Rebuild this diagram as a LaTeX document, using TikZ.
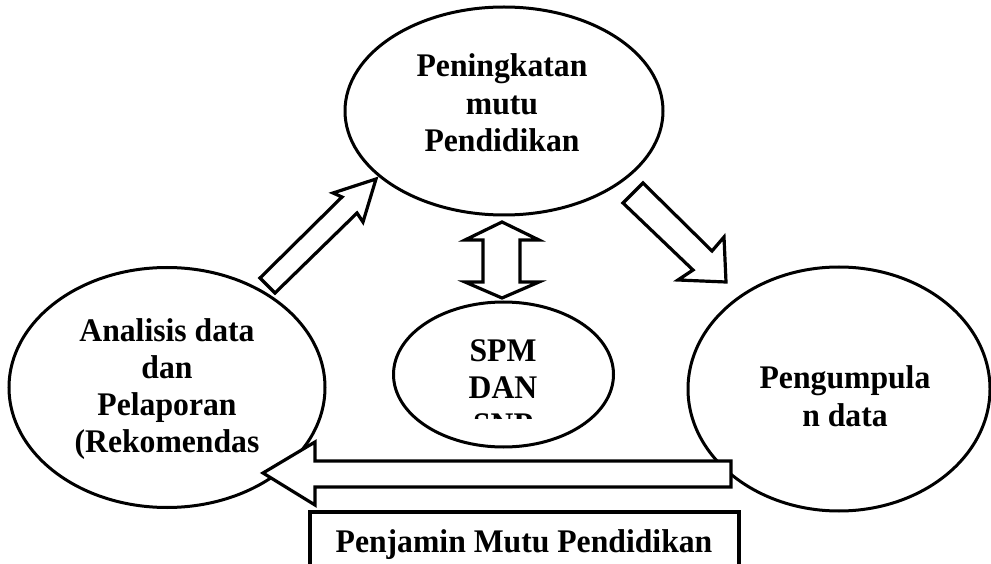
\documentclass[tikz,border=0pt]{standalone}
\usepackage{fontspec}
\setmainfont{Liberation Serif}[FakeStretch=0.96]
\usetikzlibrary{shapes.geometric}
\begin{document}
\begin{tikzpicture}[x=1pt,y=-1pt,
  oval/.style={draw,ellipse,line width=3pt,inner sep=0pt},
  lbl/.style={anchor=base,inner sep=0pt,font=\fontsize{33}{37.5}\selectfont\bfseries},
  blockarrow/.style={draw,fill=white,line width=3.2pt,line join=miter}]
\useasboundingbox (0,0) rectangle (991,564);
% ellipses
\node[oval,minimum width=318pt,minimum height=208pt] (top) at (504,111) {};
\node[oval,minimum width=316pt,minimum height=240pt] (left) at (167,387.5) {};
\node[oval,minimum width=302pt,minimum height=244pt] (right) at (839,389) {};
\node[oval,minimum width=220pt,minimum height=145pt] (mid) at (503.5,374.5) {};
% texts
\node[lbl] (t1) at (502,77) {Peningkatan};
\node[lbl] (t2) at (502,115) {mutu};
\node[lbl] (t3) at (502,152) {Pendidikan};
\node[lbl] (l1) at (167,341) {Analisis data};
\node[lbl] (l2) at (167,378) {dan};
\node[lbl] (l3) at (167,415) {Pelaporan};
\node[lbl] (l4) at (167,452) {(Rekomendas};
\node[lbl] (r1) at (845,388) {Pengumpula};
\node[lbl] (r2) at (845,426) {n data};
\node[lbl] (m1) at (503,361) {SPM};
\node[lbl] (m2) at (503,398) {DAN};
\begin{scope}
\clip (400,300) rectangle (610,418);
\node[lbl] (m3) at (503,435) {SNP};
\end{scope}
% block arrows
\draw[blockarrow] (260,278) -- (342,197) -- (333,193) -- (376,179) -- (363,222) -- (357,213) -- (275,293) -- cycle;
\draw[blockarrow] (623,203) -- (643,183) -- (712,251) -- (724,237) -- (726,282) -- (678,280) -- (693,270) -- cycle;
\draw[blockarrow] (502,222) -- (539,240) -- (520,240) -- (520,282) -- (539,282) -- (502,298) -- (465,282) -- (483,282) -- (483,240) -- (465,240) -- cycle;
\draw[blockarrow] (263,473) -- (315,442) -- (315,461) -- (731,461) -- (731,487) -- (315,487) -- (315,505) -- cycle;
% bottom box
\node[draw,line width=3.5pt,minimum width=429pt,minimum height=100pt,inner sep=0pt] (pm) at (524.5,562) {};
\node[lbl] (pmt) at (524,552) {Penjamin Mutu Pendidikan};
\end{tikzpicture}
\end{document}
